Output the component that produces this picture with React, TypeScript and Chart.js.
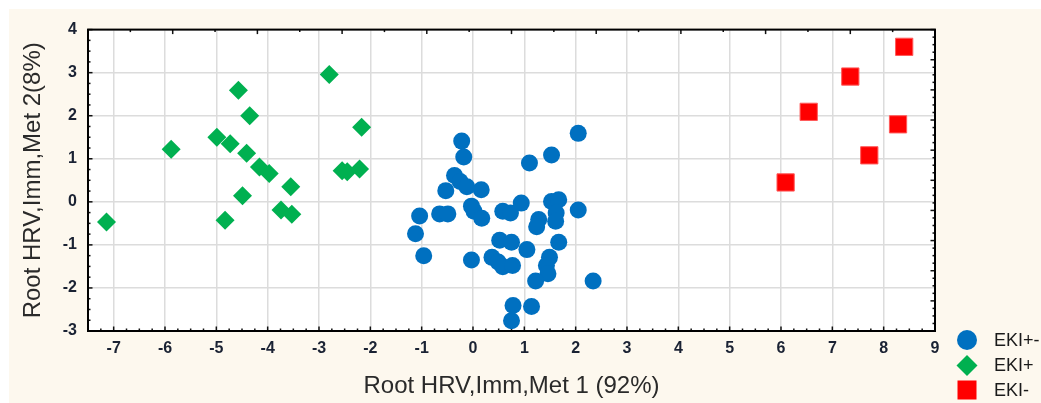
import React, { useEffect, useRef } from 'react';
import { Chart, registerables } from 'chart.js';

Chart.register(...registerables);

const FONT = '"Liberation Sans", Arial, sans-serif';

const seriesNames = ['EKI+-', 'EKI+', 'EKI-'];
const seriesColors = ['#0070c0', '#00b050', '#ff0000'];

// EKI+- (blue circles)
const ekiPmX = [2.05, -0.22, -0.18, 1.53, 1.10, -0.36, -0.25, -0.12, 0.16, -0.53, -1.04, -0.65, -0.49, -0.03, 0.02, 0.17, -1.12, -0.96, -0.03, 0.58, 0.73, 0.94, 1.28, 1.24, 1.53, 1.67, 1.62, 1.61, 2.05, 0.52, 0.75, 1.05, 1.67, 0.37, 0.49, 0.58, 0.77, 1.49, 1.43, 1.46, 1.22, 2.34, 0.78, 1.14, 0.75];
const ekiPmY = [1.59, 1.41, 1.04, 1.09, 0.90, 0.61, 0.47, 0.35, 0.28, 0.26, -0.33, -0.28, -0.28, -0.10, -0.22, -0.38, -0.74, -1.25, -1.35, -0.22, -0.26, -0.03, -0.41, -0.58, 0.01, 0.05, -0.26, -0.45, -0.19, -0.89, -0.94, -1.11, -0.94, -1.29, -1.40, -1.51, -1.48, -1.29, -1.48, -1.67, -1.84, -1.84, -2.41, -2.43, -2.76];

// EKI+ (green diamonds)
const ekiPlusX = [-2.80, -4.57, -4.35, -5.88, -4.99, -4.73, -4.41, -4.16, -3.97, -3.55, -4.49, -4.83, -7.14, -3.74, -3.53, -2.55, -2.45, -2.21, -2.17];
const ekiPlusY = [2.96, 2.59, 2.00, 1.22, 1.50, 1.35, 1.13, 0.81, 0.66, 0.35, 0.14, -0.43, -0.47, -0.19, -0.29, 0.72, 0.70, 0.76, 1.73];

// EKI- (red squares)
const ekiMinusX = [8.40, 7.35, 6.54, 8.28, 7.72, 6.09];
const ekiMinusY = [3.60, 2.91, 2.09, 1.80, 1.08, 0.45];

const xTickValues = [-7, -6, -5, -4, -3, -2, -1, 0, 1, 2, 3, 4, 5, 6, 7, 8, 9];
const yTickValues = [-3, -2, -1, 0, 1, 2, 3, 4];
const xMin = -7.5;
const xMax = 9;
const yMin = -3;
const yMax = 4;

const xTitle = 'Root HRV,Imm,Met 1 (92%)';
const yTitle = 'Root HRV,Imm,Met 2(8%)';

const toPoints = (xs: number[], ys: number[]) => xs.map((x, i) => ({ x, y: ys[i] }));

const backgroundPlugin = {
  id: 'bgPlugin',
  beforeDraw(chart: any) {
    const { ctx, width, height, chartArea } = chart;
    ctx.save();
    ctx.fillStyle = '#fdf8ee';
    ctx.fillRect(0, 0, width, height);
    ctx.fillStyle = '#ffffff';
    ctx.fillRect(chartArea.left, chartArea.top, chartArea.right - chartArea.left, chartArea.bottom - chartArea.top);
    ctx.restore();
  },
};

const framePlugin = {
  id: 'framePlugin',
  beforeDatasetsDraw(chart: any) {
    const { ctx, chartArea } = chart;
    const { left, right, top, bottom } = chartArea;
    const xs = chart.scales.x;
    const ys = chart.scales.y;
    const line = (x1: number, y1: number, x2: number, y2: number) => {
      ctx.beginPath();
      ctx.moveTo(x1, y1);
      ctx.lineTo(x2, y2);
      ctx.stroke();
    };
    ctx.save();
    ctx.strokeStyle = '#111';
    ctx.lineWidth = 1.5;
    const isInt = (v: number) => Math.abs(v - Math.round(v)) < 1e-6;
    for (let v = xMin; v <= xMax + 1e-6; v += 0.25) {
      const px = xs.getPixelForValue(v);
      line(px, bottom, px, bottom - (isInt(v) ? 4.5 : 2.5));
    }
    for (let v = yMin; v <= yMax + 1e-6; v += 0.25) {
      const py = ys.getPixelForValue(v);
      line(left, py, left + (isInt(v) ? 4.5 : 2.5), py);
    }
    for (let k = 0; k <= 20; k++) {
      const px = left + ((right - left) * k) / 20;
      line(px, top, px, top + (k % 2 === 0 ? 4.5 : 2.5));
    }
    for (let k = 0; k <= 40; k++) {
      const py = top + ((bottom - top) * k) / 40;
      line(right, py, right - (k % 4 === 0 ? 4.5 : 2.5), py);
    }
    ctx.lineWidth = 2;
    ctx.strokeStyle = '#000';
    ctx.strokeRect(left, top, right - left, bottom - top);
    ctx.restore();
  },
};

const legendPlugin = {
  id: 'customLegend',
  afterDraw(chart: any) {
    const { ctx, chartArea } = chart;
    const lx = chartArea.right + 32;
    const rows = [chartArea.bottom + 9, chartArea.bottom + 34.5, chartArea.bottom + 59];
    ctx.save();
    chart.data.datasets.forEach((ds: any, i: number) => {
      const cy = rows[i];
      ctx.fillStyle = ds.backgroundColor;
      ctx.beginPath();
      if (ds.pointStyle === 'circle') {
        ctx.arc(lx, cy, 10, 0, Math.PI * 2);
      } else if (ds.pointStyle === 'rectRot') {
        ctx.moveTo(lx, cy - 10.5);
        ctx.lineTo(lx + 10.5, cy);
        ctx.lineTo(lx, cy + 10.5);
        ctx.lineTo(lx - 10.5, cy);
        ctx.closePath();
      } else {
        ctx.rect(lx - 9.5, cy - 9.5, 19, 19);
      }
      ctx.fill();
      ctx.fillStyle = '#1a1a1a';
      ctx.font = `18px ${FONT}`;
      ctx.textBaseline = 'middle';
      ctx.textAlign = 'left';
      ctx.fillText(ds.label, lx + 27, cy + 1);
    });
    ctx.restore();
  },
};

export default function App() {
  const canvasRef = useRef<HTMLCanvasElement | null>(null);

  useEffect(() => {
    const canvas = canvasRef.current;
    if (!canvas) return;
    const chart = new Chart(canvas, {
      type: 'scatter',
      data: {
        datasets: [
          {
            label: seriesNames[0],
            data: toPoints(ekiPmX, ekiPmY),
            backgroundColor: seriesColors[0],
            borderColor: seriesColors[0],
            borderWidth: 0,
            pointStyle: 'circle',
            pointRadius: 8.5,
          },
          {
            label: seriesNames[1],
            data: toPoints(ekiPlusX, ekiPlusY),
            backgroundColor: seriesColors[1],
            borderColor: seriesColors[1],
            borderWidth: 0,
            pointStyle: 'rectRot',
            pointRadius: 9.5,
          },
          {
            label: seriesNames[2],
            data: toPoints(ekiMinusX, ekiMinusY),
            backgroundColor: seriesColors[2],
            borderColor: '#ff5a5a',
            borderWidth: 1,
            pointStyle: 'rect',
            pointRadius: 12.2,
          },
        ],
      },
      options: {
        responsive: false,
        animation: false,
        events: [],
        layout: { padding: { left: 0, right: 106, top: 17, bottom: 0 } },
        plugins: {
          legend: { display: false },
          tooltip: { enabled: false },
        },
        scales: {
          x: {
            type: 'linear',
            position: 'bottom',
            min: xMin,
            max: xMax,
            afterBuildTicks: (scale: any) => {
              scale.ticks = xTickValues.map((v) => ({ value: v }));
            },
            afterFit: (scale: any) => {
              scale.height = 72;
            },
            grid: { color: '#dcdcdc', lineWidth: 1.5, drawTicks: false },
            border: { display: false },
            ticks: {
              padding: 8,
              color: '#1a2233',
              font: { family: FONT, size: 16, weight: 'bold' },
            },
            title: {
              display: true,
              text: xTitle,
              color: '#2a2a2a',
              font: { family: FONT, size: 24 },
              padding: { top: 0, bottom: 2 },
            },
          },
          y: {
            type: 'linear',
            position: 'left',
            min: yMin,
            max: yMax,
            afterBuildTicks: (scale: any) => {
              scale.ticks = yTickValues.map((v) => ({ value: v }));
            },
            afterFit: (scale: any) => {
              scale.width = 79;
            },
            grid: { color: '#dcdcdc', lineWidth: 1.5, drawTicks: false },
            border: { display: false },
            ticks: {
              padding: 11,
              color: '#1a2233',
              font: { family: FONT, size: 16, weight: 'bold' },
            },
            title: {
              display: true,
              text: yTitle,
              color: '#2a2a2a',
              font: { family: FONT, size: 24 },
              padding: { top: 10, bottom: 0 },
            },
          },
        },
      },
      plugins: [backgroundPlugin, framePlugin, legendPlugin],
    } as any);
    return () => chart.destroy();
  }, []);

  return (
    <div style={{ position: 'fixed', left: 0, top: 0, width: 1041, height: 403, background: '#ffffff', overflow: 'hidden' }}>
      <canvas
        ref={canvasRef}
        width={1032}
        height={394}
        style={{ position: 'absolute', left: 9, top: 9, width: 1032, height: 394, display: 'block' }}
      />
    </div>
  );
}
